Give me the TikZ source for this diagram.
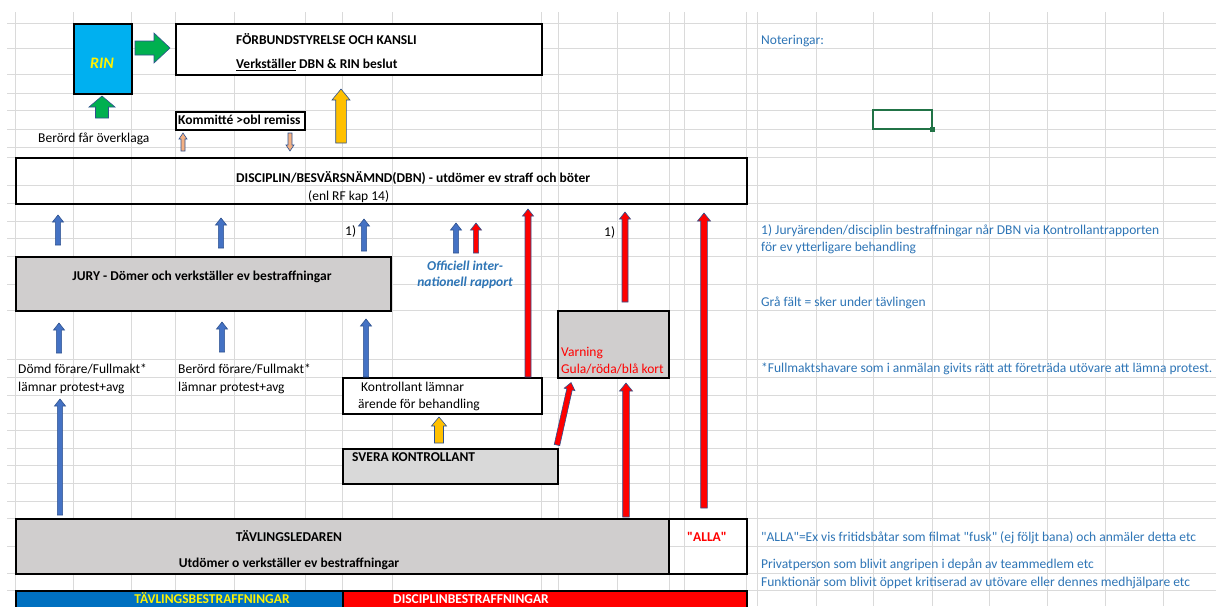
\documentclass[tikz,border=0pt]{standalone}
\usepackage{fontspec}
\setmainfont{Carlito}[Ligatures=TeXOff]
\usepackage{xcolor}
\usepackage{tikz}

\definecolor{gridgray}{HTML}{DADADA}
\definecolor{cellgray}{HTML}{D0CECE}
\definecolor{svgray}{HTML}{D9D9D9}
\definecolor{rinblue}{HTML}{00B0F0}
\definecolor{arrblue}{HTML}{4472C4}
\definecolor{arredge}{HTML}{2F528F}
\definecolor{arrgreen}{HTML}{00B050}
\definecolor{arrorange}{HTML}{FFC000}
\definecolor{arrsalmon}{HTML}{F4B183}
\definecolor{notecol}{HTML}{2E75B6}
\definecolor{barblue}{HTML}{0070C0}
\definecolor{selgreen}{HTML}{217346}

\newcommand{\cellfont}{\fontsize{13.5}{16}\selectfont}

% block arrow: fill, tail, angle, length, shaft half, head half, head length
\newcommand{\blockarr}[7]{%
  \begin{scope}[shift={(#2)}, rotate=#3]
    \filldraw[fill=#1, draw=arredge, line width=0.6pt]
      (0,#5) -- (#4-#7,#5) -- (#4-#7,#6) -- (#4,0) -- (#4-#7,-#6) -- (#4-#7,-#5) -- (0,-#5) -- cycle;
  \end{scope}}

\tikzset{
  cell/.style={draw=black, line width=1.5pt, inner sep=0, anchor=north west},
  txt/.style={inner sep=0, anchor=west, text height=9pt, text depth=0pt, font=\cellfont},
  btxt/.style={txt, font=\cellfont\bfseries},
  ctxt/.style={btxt, anchor=center},
  note/.style={txt, text=notecol}
}

\begin{document}
\begin{tikzpicture}[x=1pt, y=-1pt]
        \useasboundingbox (0,0) rectangle (1216,606);
        \fill[white] (0,0) rectangle (1216,606);

        % Grid
        \foreach \x in {15,73,131,175,234,305,342,392,541,558,617,669,684,746,757,816,873,932,989,1047,1105,1163,1221}
            \draw[gridgray, line width=0.8pt] (\x,12) -- (\x,606);
        \foreach \y in {23,48,74,93,110,129,147,157,185,203,221,238,256,284,310,359,377,395,413,430,448,465,483,501,518,546,573,590}
            \draw[gridgray, line width=0.8pt] (7,\y) -- (1216,\y);

        % Boxes
        \node[cell, fill=rinblue, minimum width=58pt, minimum height=70pt] (rin) at (73,23) {};
        \node[cell, fill=white, minimum width=366pt, minimum height=51pt] (styrelse) at (175,23) {};
        \node[cell, fill=white, minimum width=129pt, minimum height=18pt] (kommitte) at (175,111) {};
        \node[cell, minimum width=731pt, minimum height=46pt] (dbn) at (15,157) {};
        \node[cell, fill=cellgray, minimum width=375pt, minimum height=54pt] (jury) at (15,256) {};
        \node[cell, fill=cellgray, minimum width=111pt, minimum height=67pt] (varning) at (557,310) {};
        \node[cell, fill=white, minimum width=199pt, minimum height=36pt] (kontr) at (342,377) {};
        \node[cell, fill=svgray, minimum width=215pt, minimum height=35pt] (svera) at (342,448) {};
        \node[cell, fill=cellgray, minimum width=653pt, minimum height=55pt] (ledare) at (15,518) {};
        \node[cell, minimum width=78pt, minimum height=55pt] (alla) at (668,518) {};
        \node[cell, fill=barblue, minimum width=327pt, minimum height=22pt] (tbar) at (15,590) {};
        \node[cell, fill=red, minimum width=404pt, minimum height=22pt] (dbar) at (342,590) {};

        % Texts
        \node[ctxt, font=\fontsize{16}{18}\selectfont\bfseries\itshape, text=yellow] (rintxt) at (102,64) {RIN};
        \node[btxt] (styr1) at (236,40) {FÖRBUNDSTYRELSE OCH KANSLI};
        \node[btxt] (styr2) at (236,64) {\underline{Verkställer} DBN \& RIN beslut};
        \node[txt] (overkl) at (38,138) {Berörd får överklaga};
        \node[btxt] (komtxt) at (178,120) {Kommitté >obl remiss};
        \node[btxt] (dbn1) at (236,178) {DISCIPLIN/BESVÄRSNÄMND(DBN) - utdömer ev straff och böter};
        \node[txt] (dbn2) at (308,196) {(enl RF kap 14)};
        \node[txt] (fn1) at (345,231) {1)};
        \node[txt] (fn2) at (604,232) {1)};
        \node[ctxt] (jurytxt) at (202,276) {JURY - Dömer och verkställer ev bestraffningar};
        \node[ctxt, font=\cellfont\bfseries\itshape, text=notecol] (off1) at (465,266) {Officiell inter-};
        \node[ctxt, font=\cellfont\bfseries\itshape, text=notecol] (off2) at (465,282) {nationell rapport};
        \node[txt] (domd1) at (18,369) {Dömd förare/Fullmakt*};
        \node[txt] (domd2) at (18,387) {lämnar protest+avg};
        \node[txt] (berord1) at (178,369) {Berörd förare/Fullmakt*};
        \node[txt] (berord2) at (178,387) {lämnar protest+avg};
        \node[txt, text=red] (varn1) at (561,352) {Varning};
        \node[txt, text=red] (varn2) at (561,369) {Gula/röda/blå kort};
        \node[txt] (kontr1) at (361,387) {Kontrollant lämnar};
        \node[txt] (kontr2) at (358,404) {ärende för behandling};
        \node[btxt] (sveratxt) at (352,457) {SVERA KONTROLLANT};
        \node[ctxt] (led1) at (289,537) {TÄVLINGSLEDAREN};
        \node[ctxt] (led2) at (289,563) {Utdömer o verkställer ev bestraffningar};
        \node[ctxt, text=red] (allatxt) at (707,537) {"ALLA"};
        \node[ctxt, text=yellow] (tbartxt) at (212,599) {TÄVLINGSBESTRAFFNINGAR};
        \node[ctxt, text=white] (dbartxt) at (471,599) {DISCIPLINBESTRAFFNINGAR};

        % Notes
        \node[note] (n0) at (761,40) {Noteringar:};
        \node[note] (n1) at (761,230) {1) Juryärenden/disciplin bestraffningar når DBN via Kontrollantrapporten};
        \node[note] (n2) at (761,247) {för ev ytterligare behandling};
        \node[note] (n3) at (761,302) {Grå fält = sker under tävlingen};
        \node[note] (n4) at (761,368) {*Fullmaktshavare som i anmälan givits rätt att företräda utövare att lämna protest.};
        \node[note] (n5) at (761,537) {"ALLA"=Ex vis fritidsbåtar som filmat "fusk" (ej följt bana) och anmäler detta etc};
        \node[note] (n6) at (761,564) {Privatperson som blivit angripen i depån av teammedlem etc};
        \node[note] (n7) at (761,582) {Funktionär som blivit öppet kritiserad av utövare eller dennes medhjälpare etc};

        % Selected cell
        \draw[selgreen, line width=2pt] (873,110) rectangle (932,129);
        \fill[selgreen] (929.5,126.5) rectangle (935,132);

        % Arrows
        \blockarr{arrgreen}{135,48}{0}{35}{7}{15}{16}
        \blockarr{arrgreen}{102,118}{90}{22}{6.5}{13}{11}
        \blockarr{arrsalmon}{183,151}{90}{18}{2}{4}{6}
        \blockarr{arrsalmon}{290,133}{-90}{18}{2}{4}{6}
        \blockarr{arrorange}{341,143}{90}{54}{5.3}{9}{11}
        \foreach \x/\y/\l in {58/245/30, 221/248/30, 364/251/32, 456/253/30, 59/353/30, 222/352/30, 366/377/58, 60/515/116}
            {\blockarr{arrblue}{\x,\y}{90}{\l}{2.6}{5.5}{7}}
        \blockarr{red}{476,253}{90}{30}{2.6}{5.5}{7}
        \foreach \x/\y/\l in {528/377/168, 625/302/90}
            {\blockarr{red}{\x,\y}{90}{\l}{3}{5.5}{7}}
        \blockarr{red}{704,508}{90}{295}{3.3}{6.5}{8}
        \blockarr{red}{626,517}{90}{134}{3.3}{6.5}{8}
        \blockarr{red}{557,445}{77.3}{64}{2.8}{5.5}{7}
        \blockarr{arrorange}{439,443}{90}{26}{4.5}{7.5}{9}
    \end{tikzpicture}
\end{document}
